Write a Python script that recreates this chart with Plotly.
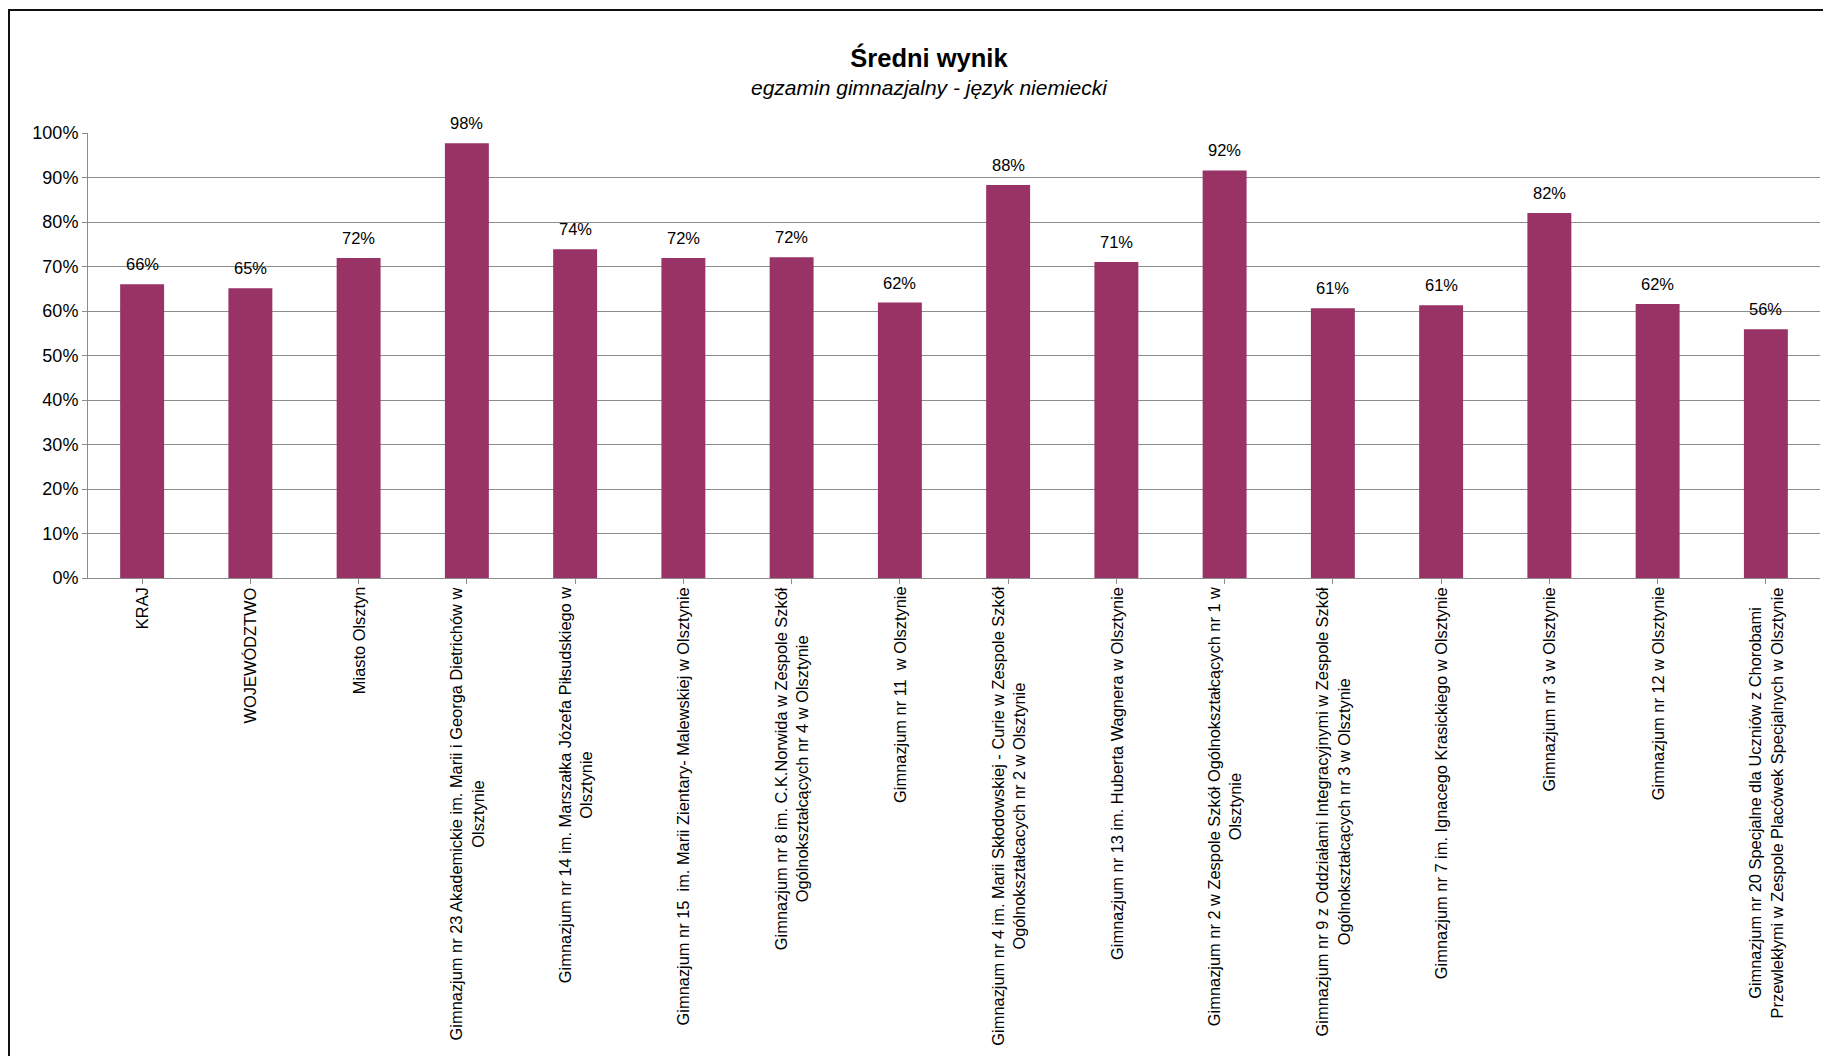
import plotly.graph_objects as go

categories = [
    "KRAJ",
    "WOJEWÓDZTWO",
    "Miasto Olsztyn",
    "Gimnazjum nr 23 Akademickie im. Marii i Georga Dietrichów w<br>Olsztynie",
    "Gimnazjum nr 14 im. Marszałka Józefa Piłsudskiego w<br>Olsztynie",
    "Gimnazjum nr 15  im. Marii Zientary- Malewskiej w Olsztynie",
    "Gimnazjum nr 8 im. C.K.Norwida w Zespole Szkół<br>Ogólnokształcących nr 4 w Olsztynie",
    "Gimnazjum nr 11  w Olsztynie",
    "Gimnazjum nr 4 im. Marii Skłodowskiej - Curie w Zespole Szkół<br>Ogólnokształcacych nr 2 w Olsztynie",
    "Gimnazjum nr 13 im. Huberta Wagnera w Olsztynie",
    "Gimnazjum nr 2 w Zespole Szkół Ogólnokształcących nr 1 w<br>Olsztynie",
    "Gimnazjum nr 9 z Oddziałami Integracyjnymi w Zespole Szkół<br>Ogólnokształcących nr 3 w Olsztynie",
    "Gimnazjum nr 7 im. Ignacego Krasickiego w Olsztynie",
    "Gimnazjum nr 3 w Olsztynie",
    "Gimnazjum nr 12 w Olsztynie",
    "Gimnazjum nr 20 Specjalne dla Uczniów z Chorobami<br>Przewlekłymi w Zespole Placówek Specjalnych w Olsztynie",
]
values = [0.660, 0.651, 0.719, 0.977, 0.739, 0.719, 0.721, 0.619, 0.883,
          0.710, 0.916, 0.606, 0.613, 0.820, 0.616, 0.559]
y_ticks = [0, 0.1, 0.2, 0.3, 0.4, 0.5, 0.6, 0.7, 0.8, 0.9, 1.0]

title_text = "Średni wynik"
subtitle_text = "egzamin gimnazjalny - język niemiecki"

FONT = "Liberation Sans, Arial, sans-serif"
BAR = "#993366"
GRID = "#8c8c8c"

# page has an 8px body margin; figure coordinates are page coords - 8
OFF = 8
W, H = 1823, 1048
L = 88 - OFF          # y axis at page x=88
T = 133 - OFF         # 100% line at page y=133
plot_right = 1820 - OFF
plot_bottom = 578 - OFF
R = W - plot_right
B = H - plot_bottom
plot_w = W - L - R
plot_h = H - T - B

x_idx = list(range(len(categories)))

fig = go.Figure()
fig.add_trace(go.Bar(
    x=x_idx, y=values,
    marker=dict(color=BAR, line=dict(width=0)),
    width=0.406,
    hoverinfo="skip",
))

annotations = []
# data labels
for i, v in enumerate(values):
    annotations.append(dict(
        x=i, y=v, xref="x", yref="y",
        text=f"{round(v * 100):d}%", showarrow=False,
        xanchor="center", yanchor="bottom", yshift=9,
        font=dict(family=FONT, size=16.5, color="#000000"),
    ))
# category labels
for i, lab in enumerate(categories):
    annotations.append(dict(
        x=i, y=0, xref="x", yref="paper",
        text=lab, textangle=-90, showarrow=False,
        xanchor="center", yanchor="top", yshift=-7,
        align="center",
        font=dict(family=FONT, size=16.4, color="#000000"),
    ))

# subtitle
annotations.append(dict(
    x=(929 - OFF - L) / plot_w, y=(plot_bottom - (88 - OFF)) / plot_h,
    xref="paper", yref="paper",
    text=f"<i>{subtitle_text}</i>", showarrow=False,
    xanchor="center", yanchor="middle",
    font=dict(family=FONT, size=21, color="#000000"),
))

shapes = [dict(
    type="rect", xref="paper", yref="paper",
    x0=(9 - OFF - L) / plot_w, x1=(W + 20 - L) / plot_w,
    y0=(plot_bottom - (H + 20)) / plot_h, y1=(plot_bottom - (10 - OFF)) / plot_h,
    line=dict(color="#111111", width=2), fillcolor="rgba(0,0,0,0)",
    layer="above",
)]

fig.update_layout(
    width=W, height=H,
    margin=dict(l=L, r=R, t=T, b=B, pad=0),
    paper_bgcolor="white", plot_bgcolor="white",
    showlegend=False,
    title=dict(
        text=f"<b>{title_text}</b>",
        x=(929 - OFF) / W, xref="container", xanchor="center",
        y=1 - (58 - OFF) / H, yref="container", yanchor="middle",
        font=dict(family=FONT, size=25.5, color="#000000"),
    ),
    xaxis=dict(
        range=[-0.5, len(categories) - 0.5],
        tickmode="array", tickvals=x_idx, ticktext=[""] * len(categories),
        showticklabels=False,
        ticks="outside", tickson="boundaries", ticklen=5, tickcolor=GRID,
        showline=True, linecolor=GRID, linewidth=1,
        showgrid=False, zeroline=False, fixedrange=True,
    ),
    yaxis=dict(
        range=[0, 1],
        tickmode="array", tickvals=y_ticks, tickformat=".0%",
        ticks="outside", ticklen=5, tickcolor=GRID,
        showline=True, linecolor=GRID, linewidth=1,
        showgrid=True, gridcolor=GRID, gridwidth=1,
        zeroline=False,
        tickfont=dict(family=FONT, size=18, color="#000000"),
        fixedrange=True,
    ),
    bargap=0.594,
    annotations=annotations,
    shapes=shapes,
)

fig.write_html("out.html")
